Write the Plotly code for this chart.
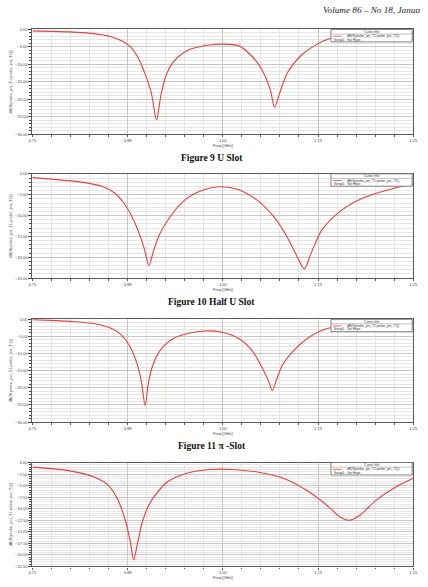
import plotly.graph_objects as go

# ---------------- data ----------------
captions = ["Figure 9 U Slot", "Figure 10 Half U Slot", "Figure 11 \u03c0 -Slot"]
header_text = "Volume 86 \u2013 No 18, Janua"
curve_name = "dB(S(probe_pin_T1,probe_pin_T1))"
setup_name = "Setup1 : Sw Hops"
x_tickvals = [0.75, 0.875, 1.0, 1.125, 1.25]
x_ticktext = ["0.75", "0.88", "1.00", "1.13", "1.25"]

freq_u = [0.750, 0.799, 0.830, 0.852, 0.867, 0.879, 0.889, 0.898, 0.906, 0.913, 0.919, 0.927,
          0.940, 0.957, 0.987, 0.999, 1.021, 1.038, 1.051, 1.062, 1.068, 1.075, 1.085, 1.102,
          1.120, 1.141, 1.175, 1.214, 1.250]
s11_u = [-0.4, -0.7, -1.2, -2.0, -3.2, -5.0, -8.2, -12.8, -18.0, -25.9, -18.5, -12.3,
         -8.1, -5.7, -4.3, -4.2, -4.7, -7.6, -11.4, -17.0, -22.3, -18.0, -12.3, -7.6,
         -4.7, -2.6, -1.6, -1.1, -0.9]

freq_half = [0.750, 0.777, 0.819, 0.841, 0.858, 0.870, 0.880, 0.889, 0.897, 0.903, 0.909, 0.917,
             0.927, 0.948, 0.970, 0.995, 1.021, 1.047, 1.068, 1.085, 1.098, 1.107, 1.116, 1.130,
             1.154, 1.184, 1.218, 1.240, 1.250]
s11_half = [-0.9, -1.3, -2.1, -3.0, -4.6, -7.0, -10.0, -13.7, -18.0, -22.0, -18.5, -14.5,
            -11.3, -6.6, -4.2, -3.1, -3.8, -6.6, -10.5, -15.3, -20.0, -22.8, -19.0, -13.5,
            -9.0, -5.8, -3.8, -2.8, -2.5]

freq_pi = [0.750, 0.799, 0.832, 0.854, 0.867, 0.877, 0.886, 0.893, 0.898, 0.902, 0.908, 0.918,
           0.935, 0.957, 0.978, 0.999, 1.021, 1.038, 1.053, 1.060, 1.065, 1.070, 1.078, 1.090,
           1.111, 1.137, 1.175, 1.214, 1.250]
s11_pi = [-0.1, -0.6, -1.3, -2.7, -4.6, -7.5, -12.0, -18.0, -25.2, -19.0, -13.5, -9.0,
          -5.6, -4.0, -3.4, -3.8, -5.6, -9.0, -14.7, -18.0, -20.8, -18.0, -13.5, -9.9,
          -5.6, -2.7, -1.5, -1.0, -0.8]

freq_4 = [0.750, 0.799, 0.832, 0.850, 0.862, 0.872, 0.879, 0.883, 0.888, 0.895, 0.906, 0.927,
          0.953, 0.983, 1.013, 1.047, 1.081, 1.111, 1.137, 1.154, 1.166, 1.180, 1.201, 1.227,
          1.250]
s11_4 = [-1.0, -1.8, -3.2, -5.0, -8.0, -12.5, -17.5, -21.1, -17.5, -12.5, -8.3, -4.2,
         -2.3, -1.5, -1.5, -2.1, -3.5, -6.1, -9.3, -11.8, -12.5, -11.4, -8.2, -5.3,
         -3.4]

y_ranges = [[-30, 0], [-25, 0], [-30, 0], [-22.5, 0]]
y_dticks = [5, 5, 5, 2.5]
y_minor = [1, 1, 1, 0.5]

panels = [(freq_u, s11_u), (freq_half, s11_half), (freq_pi, s11_pi), (freq_4, s11_4)]

# ---------------- layout geometry (pixels) ----------------
W, H = 428, 587
plot_left, plot_right = 29, 418
panel_tb = [(26.7, 132.3), (172.3, 277.5), (319.0, 422.7), (463.5, 568.3)]
caption_y = [156.7, 301.7, 446.7]

def px(x):
    return x / W

def py(y):
    return 1 - y / H

fig = go.Figure()
annotations = []
shapes = []
RED = "#e8403c"
SANS = "Liberation Sans, Arial, sans-serif"
SERIF = "Liberation Serif, Times New Roman, serif"


def note(x, y, text, size, family=SANS, color="#333", xanchor="center", angle=0):
    annotations.append(dict(x=px(x), y=py(y), xref="paper", yref="paper",
                            xanchor=xanchor, yanchor="middle", text=text,
                            textangle=angle, showarrow=False,
                            font=dict(size=size, family=family, color=color)))


for i, (fx, fy) in enumerate(panels):
    n = "" if i == 0 else str(i + 1)
    top, bot = panel_tb[i]
    fig.add_trace(go.Scatter(
        x=fx, y=fy, mode="lines", xaxis="x" + n, yaxis="y" + n,
        line=dict(color=RED, width=1.1, shape="spline", smoothing=0.8),
        showlegend=False, hoverinfo="x+y"))
    xa = dict(
        domain=[px(plot_left), px(plot_right)], anchor="y" + n,
        range=[0.75, 1.25], tickvals=x_tickvals, ticktext=x_ticktext,
        tickfont=dict(size=4, family=SANS, color="#444"),
        showgrid=True, gridcolor="#c8c8c8", gridwidth=0.8,
        minor=dict(dtick=0.025, tick0=0.75, showgrid=True, gridcolor="#e4e4e4", gridwidth=0.6,
                   ticks="outside", ticklen=1.5, tickcolor="#555"),
        ticks="outside", ticklen=2, tickcolor="#555",
        showline=True, mirror=True, linecolor="#5a5a5a", linewidth=1.3,
        zeroline=False, fixedrange=True)
    ya = dict(
        domain=[py(bot), py(top)], anchor="x" + n,
        range=y_ranges[i], dtick=y_dticks[i], tick0=0, tickformat=".2f",
        tickfont=dict(size=4, family=SANS, color="#444"),
        showgrid=True, gridcolor="#c8c8c8", gridwidth=0.8,
        minor=dict(dtick=y_minor[i], showgrid=True, gridcolor="#e6e6e6", gridwidth=0.6,
                   ticks="outside", ticklen=2, tickcolor="#444"),
        ticks="outside", ticklen=3, tickcolor="#444",
        showline=True, mirror=True, linecolor="#5a5a5a", linewidth=1.3,
        zeroline=False, fixedrange=True)
    fig.update_layout(**{"xaxis" + n: xa, "yaxis" + n: ya})

    # axis titles
    note(224, bot + 11.2, "Freq [GHz]", 4, color="#444")
    note(7, (top + bot) / 2, curve_name, 4, color="#444", angle=-90)

    # legend box ("Curve Info")
    lx0, lx1 = 334, 417
    shapes.append(dict(type="rect", xref="paper", yref="paper",
                       x0=px(lx0), x1=px(lx1), y0=py(top + 12.5), y1=py(top),
                       line=dict(color="#666", width=0.8), fillcolor="white"))
    shapes.append(dict(type="line", xref="paper", yref="paper",
                       x0=px(lx0), x1=px(lx1), y0=py(top + 4.6), y1=py(top + 4.6),
                       line=dict(color="#888", width=0.5)))
    note((lx0 + lx1) / 2, top + 2.4, "Curve Info", 3.3)
    shapes.append(dict(type="line", xref="paper", yref="paper",
                       x0=px(336), x1=px(345), y0=py(top + 6.8), y1=py(top + 6.8),
                       line=dict(color=RED, width=0.8)))
    note(348, top + 6.8, curve_name, 3.3, xanchor="left")
    note(335.5, top + 10.3, setup_name, 3.3, xanchor="left")

for cap, cy in zip(captions, caption_y):
    note(212, cy, "<b>" + cap + "</b>", 9.5, family=SERIF, color="#111")

note(427, 7, "<i>" + header_text + "</i>", 9.2, family=SERIF, color="#222", xanchor="right")

fig.update_layout(
    width=W, height=H, margin=dict(l=0, r=0, t=0, b=0),
    paper_bgcolor="white", plot_bgcolor="white",
    annotations=annotations, shapes=shapes, showlegend=False)

fig.write_html("out.html", config={"displayModeBar": False})
